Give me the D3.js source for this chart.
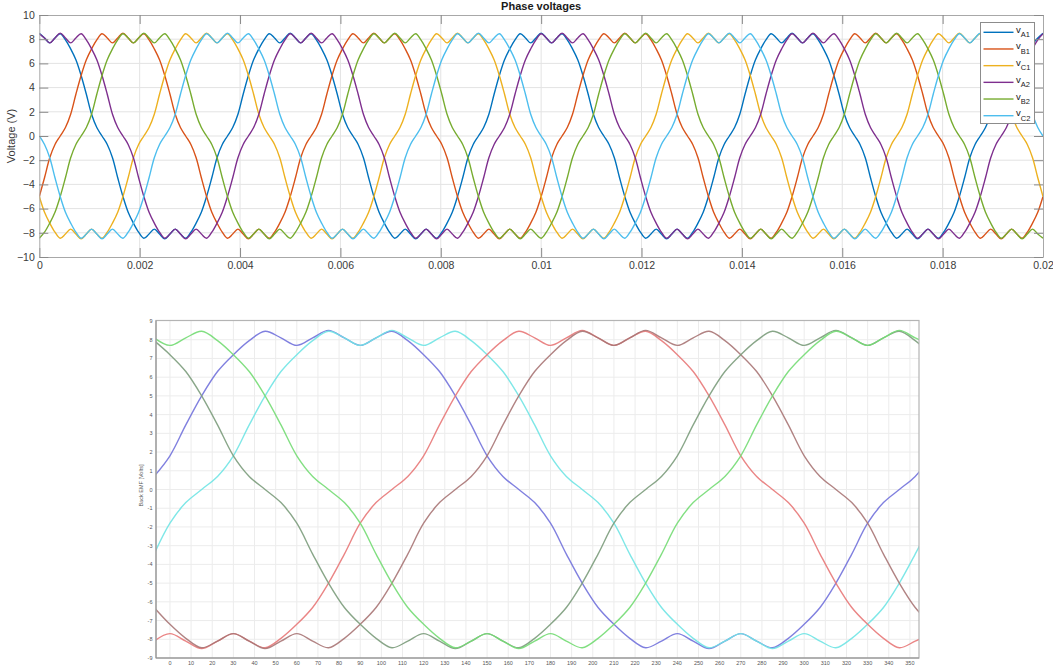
<!DOCTYPE html>
<html>
<head>
<meta charset="utf-8">
<script src="https://cdn.jsdelivr.net/npm/d3@7"></script>
<style>
  html, body { margin: 0; padding: 0; background: #fff; }
  svg { display: block; font-family: "Liberation Sans", Arial, Helvetica, sans-serif; }
</style>
</head>
<body>
<svg id="chart" width="1053" height="667"></svg>
<script>
// ===================== Phase voltages (upper plot) =====================
const phaseNames  = ["A1", "B1", "C1", "A2", "B2", "C2"];
const phaseColors = ["#0072BD", "#D95319", "#EDB120", "#7E2F8E", "#77AC30", "#4DBEEE"];
const phaseTickValues = [0, 0.002, 0.004, 0.006, 0.008, 0.01, 0.012, 0.014, 0.016, 0.018, 0.02];
const phaseTickLabels = ["0", "0.002", "0.004", "0.006", "0.008", "0.01", "0.012", "0.014", "0.016", "0.018", "0.02"];
const voltageTicks = [-10, -8, -6, -4, -2, 0, 2, 4, 6, 8, 10];
// samples are taken every 0.02/192 s from t = 0
const phaseSampleStep = 0.02 / 192;

const vA1 = [
  8.5,8.1,7.7,8.1,8.45,7.95,7.2,6.3,5,3.45,1.8,0.7,0,-0.7,-1.8,-3.45,-5,-6.3,-7.2,-7.95,-8.45,-8.1,-7.7,-8.1,-8.5,-8.1,-7.7,-8.1,-8.45,-7.95,-7.2,-6.3,-5,-3.45,-1.8,-0.7,0,0.7,1.8,3.45,5,6.3,7.2,7.95,8.45,8.1,7.7,8.1,
  8.5,8.1,7.7,8.1,8.45,7.95,7.2,6.3,5,3.45,1.8,0.7,0,-0.7,-1.8,-3.45,-5,-6.3,-7.2,-7.95,-8.45,-8.1,-7.7,-8.1,-8.5,-8.1,-7.7,-8.1,-8.45,-7.95,-7.2,-6.3,-5,-3.45,-1.8,-0.7,0,0.7,1.8,3.45,5,6.3,7.2,7.95,8.45,8.1,7.7,8.1,
  8.5,8.1,7.7,8.1,8.45,7.95,7.2,6.3,5,3.45,1.8,0.7,0,-0.7,-1.8,-3.45,-5,-6.3,-7.2,-7.95,-8.45,-8.1,-7.7,-8.1,-8.5,-8.1,-7.7,-8.1,-8.45,-7.95,-7.2,-6.3,-5,-3.45,-1.8,-0.7,0,0.7,1.8,3.45,5,6.3,7.2,7.95,8.45,8.1,7.7,8.1,
  8.5,8.1,7.7,8.1,8.45,7.95,7.2,6.3,5,3.45,1.8,0.7,0,-0.7,-1.8,-3.45,-5,-6.3,-7.2,-7.95,-8.45,-8.1,-7.7,-8.1,-8.5,-8.1,-7.7,-8.1,-8.45,-7.95,-7.2,-6.3,-5,-3.45,-1.8,-0.7,0,0.7,1.8,3.45,5,6.3,7.2,7.95,8.45,8.1,7.7,8.1,
  8.5
];
const vB1 = [
  -5,-3.45,-1.8,-0.7,0,0.7,1.8,3.45,5,6.3,7.2,7.95,8.45,8.1,7.7,8.1,8.5,8.1,7.7,8.1,8.45,7.95,7.2,6.3,5,3.45,1.8,0.7,0,-0.7,-1.8,-3.45,-5,-6.3,-7.2,-7.95,-8.45,-8.1,-7.7,-8.1,-8.5,-8.1,-7.7,-8.1,-8.45,-7.95,-7.2,-6.3,
  -5,-3.45,-1.8,-0.7,0,0.7,1.8,3.45,5,6.3,7.2,7.95,8.45,8.1,7.7,8.1,8.5,8.1,7.7,8.1,8.45,7.95,7.2,6.3,5,3.45,1.8,0.7,0,-0.7,-1.8,-3.45,-5,-6.3,-7.2,-7.95,-8.45,-8.1,-7.7,-8.1,-8.5,-8.1,-7.7,-8.1,-8.45,-7.95,-7.2,-6.3,
  -5,-3.45,-1.8,-0.7,0,0.7,1.8,3.45,5,6.3,7.2,7.95,8.45,8.1,7.7,8.1,8.5,8.1,7.7,8.1,8.45,7.95,7.2,6.3,5,3.45,1.8,0.7,0,-0.7,-1.8,-3.45,-5,-6.3,-7.2,-7.95,-8.45,-8.1,-7.7,-8.1,-8.5,-8.1,-7.7,-8.1,-8.45,-7.95,-7.2,-6.3,
  -5,-3.45,-1.8,-0.7,0,0.7,1.8,3.45,5,6.3,7.2,7.95,8.45,8.1,7.7,8.1,8.5,8.1,7.7,8.1,8.45,7.95,7.2,6.3,5,3.45,1.8,0.7,0,-0.7,-1.8,-3.45,-5,-6.3,-7.2,-7.95,-8.45,-8.1,-7.7,-8.1,-8.5,-8.1,-7.7,-8.1,-8.45,-7.95,-7.2,-6.3,
  -5
];
const vC1 = [
  -5,-6.3,-7.2,-7.95,-8.45,-8.1,-7.7,-8.1,-8.5,-8.1,-7.7,-8.1,-8.45,-7.95,-7.2,-6.3,-5,-3.45,-1.8,-0.7,0,0.7,1.8,3.45,5,6.3,7.2,7.95,8.45,8.1,7.7,8.1,8.5,8.1,7.7,8.1,8.45,7.95,7.2,6.3,5,3.45,1.8,0.7,0,-0.7,-1.8,-3.45,
  -5,-6.3,-7.2,-7.95,-8.45,-8.1,-7.7,-8.1,-8.5,-8.1,-7.7,-8.1,-8.45,-7.95,-7.2,-6.3,-5,-3.45,-1.8,-0.7,0,0.7,1.8,3.45,5,6.3,7.2,7.95,8.45,8.1,7.7,8.1,8.5,8.1,7.7,8.1,8.45,7.95,7.2,6.3,5,3.45,1.8,0.7,0,-0.7,-1.8,-3.45,
  -5,-6.3,-7.2,-7.95,-8.45,-8.1,-7.7,-8.1,-8.5,-8.1,-7.7,-8.1,-8.45,-7.95,-7.2,-6.3,-5,-3.45,-1.8,-0.7,0,0.7,1.8,3.45,5,6.3,7.2,7.95,8.45,8.1,7.7,8.1,8.5,8.1,7.7,8.1,8.45,7.95,7.2,6.3,5,3.45,1.8,0.7,0,-0.7,-1.8,-3.45,
  -5,-6.3,-7.2,-7.95,-8.45,-8.1,-7.7,-8.1,-8.5,-8.1,-7.7,-8.1,-8.45,-7.95,-7.2,-6.3,-5,-3.45,-1.8,-0.7,0,0.7,1.8,3.45,5,6.3,7.2,7.95,8.45,8.1,7.7,8.1,8.5,8.1,7.7,8.1,8.45,7.95,7.2,6.3,5,3.45,1.8,0.7,0,-0.7,-1.8,-3.45,
  -5
];
const vA2 = [
  8.45,8.1,7.7,8.1,8.5,8.1,7.7,8.1,8.45,7.95,7.2,6.3,5,3.45,1.8,0.7,0,-0.7,-1.8,-3.45,-5,-6.3,-7.2,-7.95,-8.45,-8.1,-7.7,-8.1,-8.5,-8.1,-7.7,-8.1,-8.45,-7.95,-7.2,-6.3,-5,-3.45,-1.8,-0.7,0,0.7,1.8,3.45,5,6.3,7.2,7.95,
  8.45,8.1,7.7,8.1,8.5,8.1,7.7,8.1,8.45,7.95,7.2,6.3,5,3.45,1.8,0.7,0,-0.7,-1.8,-3.45,-5,-6.3,-7.2,-7.95,-8.45,-8.1,-7.7,-8.1,-8.5,-8.1,-7.7,-8.1,-8.45,-7.95,-7.2,-6.3,-5,-3.45,-1.8,-0.7,0,0.7,1.8,3.45,5,6.3,7.2,7.95,
  8.45,8.1,7.7,8.1,8.5,8.1,7.7,8.1,8.45,7.95,7.2,6.3,5,3.45,1.8,0.7,0,-0.7,-1.8,-3.45,-5,-6.3,-7.2,-7.95,-8.45,-8.1,-7.7,-8.1,-8.5,-8.1,-7.7,-8.1,-8.45,-7.95,-7.2,-6.3,-5,-3.45,-1.8,-0.7,0,0.7,1.8,3.45,5,6.3,7.2,7.95,
  8.45,8.1,7.7,8.1,8.5,8.1,7.7,8.1,8.45,7.95,7.2,6.3,5,3.45,1.8,0.7,0,-0.7,-1.8,-3.45,-5,-6.3,-7.2,-7.95,-8.45,-8.1,-7.7,-8.1,-8.5,-8.1,-7.7,-8.1,-8.45,-7.95,-7.2,-6.3,-5,-3.45,-1.8,-0.7,0,0.7,1.8,3.45,5,6.3,7.2,7.95,
  8.45
];
const vB2 = [
  -8.45,-7.95,-7.2,-6.3,-5,-3.45,-1.8,-0.7,0,0.7,1.8,3.45,5,6.3,7.2,7.95,8.45,8.1,7.7,8.1,8.5,8.1,7.7,8.1,8.45,7.95,7.2,6.3,5,3.45,1.8,0.7,0,-0.7,-1.8,-3.45,-5,-6.3,-7.2,-7.95,-8.45,-8.1,-7.7,-8.1,-8.5,-8.1,-7.7,-8.1,
  -8.45,-7.95,-7.2,-6.3,-5,-3.45,-1.8,-0.7,0,0.7,1.8,3.45,5,6.3,7.2,7.95,8.45,8.1,7.7,8.1,8.5,8.1,7.7,8.1,8.45,7.95,7.2,6.3,5,3.45,1.8,0.7,0,-0.7,-1.8,-3.45,-5,-6.3,-7.2,-7.95,-8.45,-8.1,-7.7,-8.1,-8.5,-8.1,-7.7,-8.1,
  -8.45,-7.95,-7.2,-6.3,-5,-3.45,-1.8,-0.7,0,0.7,1.8,3.45,5,6.3,7.2,7.95,8.45,8.1,7.7,8.1,8.5,8.1,7.7,8.1,8.45,7.95,7.2,6.3,5,3.45,1.8,0.7,0,-0.7,-1.8,-3.45,-5,-6.3,-7.2,-7.95,-8.45,-8.1,-7.7,-8.1,-8.5,-8.1,-7.7,-8.1,
  -8.45,-7.95,-7.2,-6.3,-5,-3.45,-1.8,-0.7,0,0.7,1.8,3.45,5,6.3,7.2,7.95,8.45,8.1,7.7,8.1,8.5,8.1,7.7,8.1,8.45,7.95,7.2,6.3,5,3.45,1.8,0.7,0,-0.7,-1.8,-3.45,-5,-6.3,-7.2,-7.95,-8.45,-8.1,-7.7,-8.1,-8.5,-8.1,-7.7,-8.1,
  -8.45
];
const vC2 = [
  0,-0.7,-1.8,-3.45,-5,-6.3,-7.2,-7.95,-8.45,-8.1,-7.7,-8.1,-8.5,-8.1,-7.7,-8.1,-8.45,-7.95,-7.2,-6.3,-5,-3.45,-1.8,-0.7,0,0.7,1.8,3.45,5,6.3,7.2,7.95,8.45,8.1,7.7,8.1,8.5,8.1,7.7,8.1,8.45,7.95,7.2,6.3,5,3.45,1.8,0.7,
  0,-0.7,-1.8,-3.45,-5,-6.3,-7.2,-7.95,-8.45,-8.1,-7.7,-8.1,-8.5,-8.1,-7.7,-8.1,-8.45,-7.95,-7.2,-6.3,-5,-3.45,-1.8,-0.7,0,0.7,1.8,3.45,5,6.3,7.2,7.95,8.45,8.1,7.7,8.1,8.5,8.1,7.7,8.1,8.45,7.95,7.2,6.3,5,3.45,1.8,0.7,
  0,-0.7,-1.8,-3.45,-5,-6.3,-7.2,-7.95,-8.45,-8.1,-7.7,-8.1,-8.5,-8.1,-7.7,-8.1,-8.45,-7.95,-7.2,-6.3,-5,-3.45,-1.8,-0.7,0,0.7,1.8,3.45,5,6.3,7.2,7.95,8.45,8.1,7.7,8.1,8.5,8.1,7.7,8.1,8.45,7.95,7.2,6.3,5,3.45,1.8,0.7,
  0,-0.7,-1.8,-3.45,-5,-6.3,-7.2,-7.95,-8.45,-8.1,-7.7,-8.1,-8.5,-8.1,-7.7,-8.1,-8.45,-7.95,-7.2,-6.3,-5,-3.45,-1.8,-0.7,0,0.7,1.8,3.45,5,6.3,7.2,7.95,8.45,8.1,7.7,8.1,8.5,8.1,7.7,8.1,8.45,7.95,7.2,6.3,5,3.45,1.8,0.7,
  0
];
const phaseValues = [vA1, vB1, vC1, vA2, vB2, vC2];

// ===================== Back EMF (lower plot) =====================
const emfAngleTicks = [0,10,20,30,40,50,60,70,80,90,100,110,120,130,140,150,160,170,180,190,200,210,220,230,240,250,260,270,280,290,300,310,320,330,340,350];
const emfVoltTicks = [-9,-8,-7,-6,-5,-4,-3,-2,-1,0,1,2,3,4,5,6,7,8,9];
// samples every 7.5 degrees starting at -7.5 degrees
const emfAngleStart = -7.5;
const emfAngleStep = 7.5;
const emfColors = ["#7272dc", "#70e4e4", "#e87878", "#a87676", "#7c9c7c", "#74dc74"];

const emfBlue = [0.7,1.8,3.45,5,6.3,7.2,7.95,8.45,8.1,7.7,8.1,8.5,8.1,7.7,8.1,8.45,7.95,7.2,6.3,5,3.45,1.8,0.7,0,-0.7,-1.8,-3.45,-5,-6.3,-7.2,-7.95,-8.45,-8.1,-7.7,-8.1,-8.5,-8.1,-7.7,-8.1,-8.45,-7.95,-7.2,-6.3,-5,-3.45,-1.8,-0.7,0,0.7,1.8];
const emfCyan = [-3.45,-1.8,-0.7,0,0.7,1.8,3.45,5,6.3,7.2,7.95,8.45,8.1,7.7,8.1,8.5,8.1,7.7,8.1,8.45,7.95,7.2,6.3,5,3.45,1.8,0.7,0,-0.7,-1.8,-3.45,-5,-6.3,-7.2,-7.95,-8.45,-8.1,-7.7,-8.1,-8.5,-8.1,-7.7,-8.1,-8.45,-7.95,-7.2,-6.3,-5,-3.45,-1.8];
const emfRed = [-8.1,-7.7,-8.1,-8.5,-8.1,-7.7,-8.1,-8.45,-7.95,-7.2,-6.3,-5,-3.45,-1.8,-0.7,0,0.7,1.8,3.45,5,6.3,7.2,7.95,8.45,8.1,7.7,8.1,8.5,8.1,7.7,8.1,8.45,7.95,7.2,6.3,5,3.45,1.8,0.7,0,-0.7,-1.8,-3.45,-5,-6.3,-7.2,-7.95,-8.45,-8.1,-7.7];
const emfBrown = [-6.3,-7.2,-7.95,-8.45,-8.1,-7.7,-8.1,-8.5,-8.1,-7.7,-8.1,-8.45,-7.95,-7.2,-6.3,-5,-3.45,-1.8,-0.7,0,0.7,1.8,3.45,5,6.3,7.2,7.95,8.45,8.1,7.7,8.1,8.5,8.1,7.7,8.1,8.45,7.95,7.2,6.3,5,3.45,1.8,0.7,0,-0.7,-1.8,-3.45,-5,-6.3,-7.2];
const emfGreyGreen = [7.95,7.2,6.3,5,3.45,1.8,0.7,0,-0.7,-1.8,-3.45,-5,-6.3,-7.2,-7.95,-8.45,-8.1,-7.7,-8.1,-8.5,-8.1,-7.7,-8.1,-8.45,-7.95,-7.2,-6.3,-5,-3.45,-1.8,-0.7,0,0.7,1.8,3.45,5,6.3,7.2,7.95,8.45,8.1,7.7,8.1,8.5,8.1,7.7,8.1,8.45,7.95,7.2];
const emfLightGreen = [8.1,7.7,8.1,8.45,7.95,7.2,6.3,5,3.45,1.8,0.7,0,-0.7,-1.8,-3.45,-5,-6.3,-7.2,-7.95,-8.45,-8.1,-7.7,-8.1,-8.5,-8.1,-7.7,-8.1,-8.45,-7.95,-7.2,-6.3,-5,-3.45,-1.8,-0.7,0,0.7,1.8,3.45,5,6.3,7.2,7.95,8.45,8.1,7.7,8.1,8.5,8.1,7.7];
const emfValues = [emfBlue, emfCyan, emfRed, emfBrown, emfGreyGreen, emfLightGreen];

// ===================== drawing =====================
const svg = d3.select("#chart");
svg.append("rect").attr("width", 1053).attr("height", 667).attr("fill", "#fff");
const defs = svg.append("defs");

// ---------- upper plot ----------
const P = { left: 39.3, right: 1043, top: 15, bottom: 257 };
const xT = d3.scaleLinear().domain([0, 0.02]).range([P.left, P.right]);
const yT = d3.scaleLinear().domain([-10, 10]).range([P.bottom, P.top]);
const gT = svg.append("g");

defs.append("clipPath").attr("id", "clipTop")
  .append("rect").attr("x", P.left).attr("y", P.top)
  .attr("width", P.right - P.left).attr("height", P.bottom - P.top);

// grid
gT.append("g").selectAll("line").data(phaseTickValues.slice(1, -1)).join("line")
  .attr("x1", d => xT(d)).attr("x2", d => xT(d))
  .attr("y1", P.top).attr("y2", P.bottom)
  .attr("stroke", "#e3e3e3").attr("stroke-width", 1);
gT.append("g").selectAll("line").data(voltageTicks.slice(1, -1)).join("line")
  .attr("x1", P.left).attr("x2", P.right)
  .attr("y1", d => yT(d)).attr("y2", d => yT(d))
  .attr("stroke", "#e3e3e3").attr("stroke-width", 1);

// curves
const lineT = d3.line()
  .x((d, i) => xT(i * phaseSampleStep))
  .y(d => yT(d))
  .curve(d3.curveCatmullRom.alpha(0.5));
const curvesT = gT.append("g").attr("clip-path", "url(#clipTop)");
phaseValues.forEach((vals, k) => {
  curvesT.append("path").datum(vals)
    .attr("d", lineT)
    .attr("fill", "none")
    .attr("stroke", phaseColors[k])
    .attr("stroke-width", 1.4)
    .attr("stroke-linejoin", "round");
});

// axes (ticks point inward, MATLAB style box)
function styleAxis(g, frameColor) {
  g.select(".domain").attr("stroke", frameColor).attr("stroke-width", 1);
  g.selectAll(".tick line").attr("stroke", "#8a8a8a").attr("stroke-width", 1);
  g.selectAll("text").attr("fill", "#3a3a3a");
}
gT.append("g").attr("transform", `translate(0,${P.bottom})`)
  .call(d3.axisBottom(xT).tickValues(phaseTickValues)
    .tickFormat((d, i) => phaseTickLabels[i]).tickSizeInner(-9).tickSizeOuter(0).tickPadding(5))
  .call(g => styleAxis(g, "#a8a8a8"))
  .call(g => g.selectAll("text").attr("font-size", 10.5).attr("font-family", "Liberation Sans, Arial, sans-serif"));
gT.append("g").attr("transform", `translate(0,${P.top})`)
  .call(d3.axisTop(xT).tickValues(phaseTickValues)
    .tickFormat("").tickSizeInner(-9).tickSizeOuter(0))
  .call(g => styleAxis(g, "#a8a8a8"));
gT.append("g").attr("transform", `translate(${P.left},0)`)
  .call(d3.axisLeft(yT).tickValues(voltageTicks)
    .tickFormat(d3.format("d")).tickSizeInner(-9).tickSizeOuter(0).tickPadding(4.5))
  .call(g => styleAxis(g, "#a8a8a8"))
  .call(g => g.selectAll("text").attr("font-size", 10.5).attr("font-family", "Liberation Sans, Arial, sans-serif"));
gT.append("g").attr("transform", `translate(${P.right},0)`)
  .call(d3.axisRight(yT).tickValues(voltageTicks)
    .tickFormat("").tickSizeInner(-9).tickSizeOuter(0))
  .call(g => styleAxis(g, "#a8a8a8"));

// title and y label
gT.append("text").attr("x", (P.left + P.right) / 2).attr("y", 9.5)
  .attr("text-anchor", "middle").attr("font-size", 11).attr("font-weight", "bold")
  .attr("fill", "#1a1a1a").text("Phase voltages");
gT.append("text").attr("transform", `translate(14.5,${yT(0)}) rotate(-90)`)
  .attr("text-anchor", "middle").attr("font-size", 11).attr("fill", "#3a3a3a")
  .text("Voltage (V)");

// legend
const leg = gT.append("g");
leg.append("rect").attr("x", 980.5).attr("y", 22.5).attr("width", 54).attr("height", 101)
  .attr("fill", "#fff").attr("stroke", "#8c8c8c").attr("stroke-width", 1);
phaseNames.forEach((name, k) => {
  const yy = 32.3 + k * 16.68;
  leg.append("line").attr("x1", 983.5).attr("x2", 1013.5).attr("y1", yy).attr("y2", yy)
    .attr("stroke", phaseColors[k]).attr("stroke-width", 1.4);
  const t = leg.append("text").attr("x", 1016).attr("y", yy + 0.5)
    .attr("font-size", 9.5).attr("fill", "#1a1a1a");
  t.append("tspan").text("v");
  t.append("tspan").attr("dy", 4.3).attr("font-size", 7.5).text(name);
});

// ---------- lower plot ----------
const B = { left: 156, right: 919, top: 320.5, bottom: 658 };
const xB = d3.scaleLinear().domain([-6.6, 354.3]).range([B.left, B.right]);
const yB = d3.scaleLinear().domain([-9, 9]).range([658, 321]);
const gB = svg.append("g");

defs.append("clipPath").attr("id", "clipBottom")
  .append("rect").attr("x", B.left).attr("y", B.top)
  .attr("width", B.right - B.left).attr("height", B.bottom - B.top);
defs.append("filter").attr("id", "soft").attr("x", "-5%").attr("y", "-5%").attr("width", "110%").attr("height", "110%")
  .append("feGaussianBlur").attr("stdDeviation", 0.45);

gB.append("g").selectAll("line").data(emfAngleTicks).join("line")
  .attr("x1", d => xB(d)).attr("x2", d => xB(d))
  .attr("y1", B.top).attr("y2", B.bottom)
  .attr("stroke", "#ececec").attr("stroke-width", 1);
gB.append("g").selectAll("line").data(emfVoltTicks.slice(1, -1)).join("line")
  .attr("x1", B.left).attr("x2", B.right)
  .attr("y1", d => yB(d)).attr("y2", d => yB(d))
  .attr("stroke", "#ececec").attr("stroke-width", 1);

const lineB = d3.line()
  .x((d, i) => xB(emfAngleStart + i * emfAngleStep))
  .y(d => yB(d))
  .curve(d3.curveCatmullRom.alpha(0.5));
const curvesB = gB.append("g").attr("clip-path", "url(#clipBottom)")
  .append("g").attr("filter", "url(#soft)");
emfValues.forEach((vals, k) => {
  curvesB.append("path").datum(vals)
    .attr("d", lineB)
    .attr("fill", "none")
    .attr("stroke", emfColors[k])
    .attr("stroke-opacity", 0.9)
    .attr("stroke-width", 1.4);
});

// frame
gB.append("rect").attr("x", B.left).attr("y", B.top)
  .attr("width", B.right - B.left).attr("height", B.bottom - B.top)
  .attr("fill", "none").attr("stroke", "#b4b4b4").attr("stroke-width", 1.2);
gB.append("line").attr("x1", B.left).attr("x2", B.left).attr("y1", B.top).attr("y2", B.bottom)
  .attr("stroke", "#8e8e8e").attr("stroke-width", 1);
gB.append("line").attr("x1", B.left).attr("x2", B.right).attr("y1", B.bottom).attr("y2", B.bottom)
  .attr("stroke", "#8e8e8e").attr("stroke-width", 1);

// tick labels
gB.append("g").selectAll("text").data(emfAngleTicks).join("text")
  .attr("x", d => xB(d)).attr("y", 665)
  .attr("text-anchor", "middle").attr("font-size", 5.5).attr("fill", "#555")
  .text(d => d);
gB.append("g").selectAll("text").data(emfVoltTicks).join("text")
  .attr("x", 152.5).attr("y", d => yB(d) + 2)
  .attr("text-anchor", "end").attr("font-size", 5.5).attr("fill", "#555")
  .text(d => d);
gB.append("text").attr("transform", `translate(143,485.5) rotate(-90)`)
  .attr("text-anchor", "middle").attr("font-size", 5.5).attr("fill", "#555")
  .text("Back EMF [Volts]");
</script>
</body>
</html>
